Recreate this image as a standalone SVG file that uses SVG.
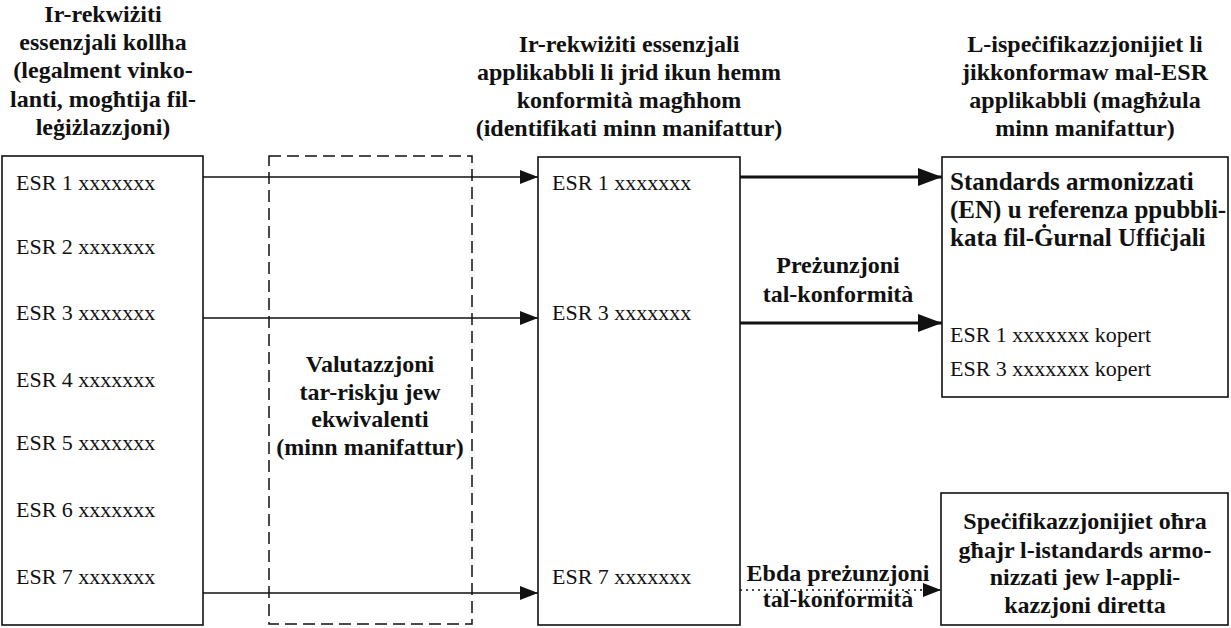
<svg xmlns="http://www.w3.org/2000/svg" width="1231" height="628" viewBox="0 0 1231 628">
<style>
.box{fill:#fff;stroke:#111;stroke-width:1.6}
.dash{fill:none;stroke:#111;stroke-width:1.5;stroke-dasharray:12 6}
.h{font-family:"Liberation Serif",serif;font-weight:bold;font-size:24px;fill:#111;text-anchor:middle}
.hl{font-family:"Liberation Serif",serif;font-weight:bold;font-size:25px;fill:#111}
.t{font-family:"Liberation Serif",serif;font-size:22px;fill:#111}
.thin{stroke:#111;stroke-width:1.6;fill:none}
.thick{stroke:#111;stroke-width:3.2;fill:none}
.dot{stroke:#111;stroke-width:1.5;fill:none;stroke-dasharray:2 4}
</style>
<defs>
<marker id="ah" markerUnits="userSpaceOnUse" markerWidth="18" markerHeight="14" refX="18" refY="7" orient="auto">
<path d="M0,0 L18,7 L0,14 Z" fill="#111"/>
</marker>
<marker id="ahb" markerUnits="userSpaceOnUse" markerWidth="24" markerHeight="18" refX="24" refY="9" orient="auto">
<path d="M0,0 L24,9 L0,18 Z" fill="#111"/>
</marker>
</defs>

<g id="header-left">
<text class="h" x="103" y="22">Ir-rekwiżiti</text>
<text class="h" x="103" y="50">essenzjali kollha</text>
<text class="h" x="103" y="78">(legalment vinko-</text>
<text class="h" x="103" y="107">lanti, mogħtija fil-</text>
<text class="h" x="103" y="135">leġiżlazzjoni)</text>
</g>
<g id="header-middle">
<text class="h" x="629" y="52">Ir-rekwiżiti essenzjali</text>
<text class="h" x="629" y="80">applikabbli li jrid ikun hemm</text>
<text class="h" x="629" y="108">konformità magħhom</text>
<text class="h" x="629" y="136">(identifikati minn manifattur)</text>
</g>
<g id="header-right">
<text class="h" x="1085" y="52">L-ispeċifikazzjonijiet li</text>
<text class="h" x="1085" y="80">jikkonformaw mal-ESR</text>
<text class="h" x="1085" y="108">applikabbli (magħżula</text>
<text class="h" x="1085" y="136">minn manifattur)</text>
</g>

<g id="all-esr">
<rect class="box" x="2" y="156" width="201" height="469"/>
<text class="t" x="16" y="190">ESR 1 xxxxxxx</text>
<text class="t" x="16" y="254">ESR 2 xxxxxxx</text>
<text class="t" x="16" y="320">ESR 3 xxxxxxx</text>
<text class="t" x="16" y="387">ESR 4 xxxxxxx</text>
<text class="t" x="16" y="450">ESR 5 xxxxxxx</text>
<text class="t" x="16" y="517">ESR 6 xxxxxxx</text>
<text class="t" x="16" y="584">ESR 7 xxxxxxx</text>
</g>

<g id="risk-assessment">
<rect class="dash" x="269" y="156" width="203" height="468"/>
<text class="h" x="370" y="372">Valutazzjoni</text>
<text class="h" x="370" y="400">tar-riskju jew</text>
<text class="h" x="370" y="427">ekwivalenti</text>
<text class="h" x="370" y="455">(minn manifattur)</text>
</g>

<g id="applicable-esr">
<rect class="box" x="538" y="157" width="202" height="468"/>
<text class="t" x="552" y="190">ESR 1 xxxxxxx</text>
<text class="t" x="552" y="320">ESR 3 xxxxxxx</text>
<text class="t" x="552" y="584">ESR 7 xxxxxxx</text>
</g>

<g id="harmonised-standards">
<rect class="box" x="942" y="157" width="286" height="240"/>
<text class="hl" x="950" y="190">Standards armonizzati</text>
<text class="hl" x="950" y="218">(EN) u referenza ppubbli-</text>
<text class="hl" x="950" y="246">kata fil-Ġurnal Uffiċjali</text>
<text class="t" x="950" y="342">ESR 1 xxxxxxx kopert</text>
<text class="t" x="950" y="376">ESR 3 xxxxxxx kopert</text>
</g>

<g id="other-specifications">
<rect class="box" x="941" y="493" width="287" height="132"/>
<text class="h" x="1085" y="529">Speċifikazzjonijiet oħra</text>
<text class="h" x="1085" y="558">għajr l-istandards armo-</text>
<text class="h" x="1085" y="585">nizzati jew l-appli-</text>
<text class="h" x="1085" y="613">kazzjoni diretta</text>
</g>

<g id="connectors">
<line class="thin" x1="203" y1="177" x2="538" y2="177" marker-end="url(#ah)"/>
<line class="thin" x1="203" y1="318" x2="538" y2="318" marker-end="url(#ah)"/>
<line class="thin" x1="203" y1="593" x2="538" y2="593" marker-end="url(#ah)"/>
<line class="thick" x1="740" y1="177" x2="942" y2="177" marker-end="url(#ahb)"/>
<line class="thick" x1="740" y1="323" x2="942" y2="323" marker-end="url(#ahb)"/>
<line class="dot" x1="740" y1="590" x2="941" y2="590" marker-end="url(#ah)"/>
<text class="h" x="838" y="273">Preżunzjoni</text>
<text class="h" x="838" y="302">tal-konformità</text>
<text class="h" x="838" y="581">Ebda preżunzjoni</text>
<text class="h" x="838" y="607">tal-konformità</text>
</g>
</svg>
